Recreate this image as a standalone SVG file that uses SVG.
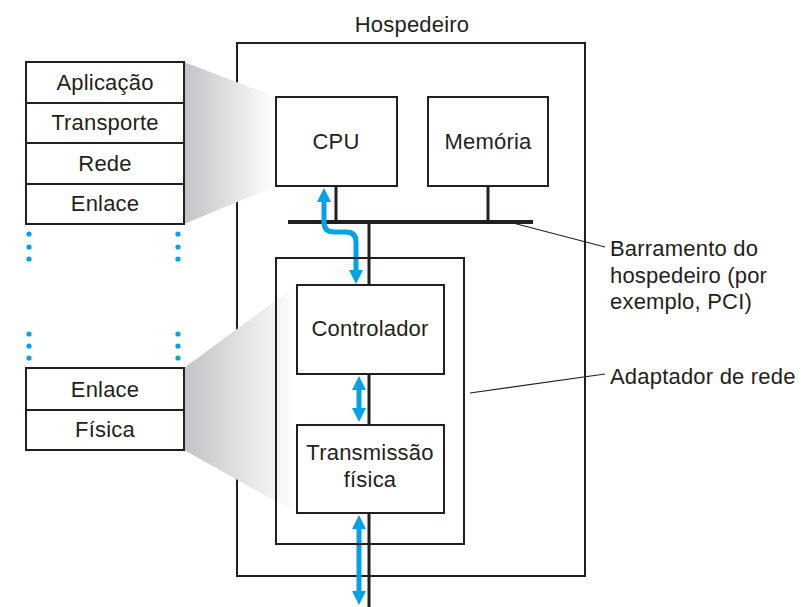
<svg xmlns="http://www.w3.org/2000/svg" width="804" height="607" viewBox="0 0 804 607">
<defs>
<linearGradient id="shade" x1="0" y1="0" x2="1" y2="0">
<stop offset="0" stop-color="#c2c3c5"/>
<stop offset="1" stop-color="#ffffff"/>
</linearGradient>
<style>
text{font-family:"Liberation Sans",Arial,sans-serif;font-size:22px;fill:#231f20;letter-spacing:0.2px}
.c{text-anchor:middle}
.box{fill:#fff;stroke:#231f20;stroke-width:2}
.open{fill:none;stroke:#231f20;stroke-width:2}
.thin{stroke:#231f20;stroke-width:1.2;fill:none}
.bus{stroke:#231f20;stroke-width:4;fill:none}
.wire{stroke:#231f20;stroke-width:3;fill:none}
.blue{stroke:#00a3e6;stroke-width:5;fill:none}
.head{fill:#00a3e6}
.dot{fill:#00a3e6}
</style>
</defs>
<rect width="804" height="607" fill="#fff"/>

<g id="host">
<rect class="box" x="237" y="43" width="348" height="533"/>
<text class="c" x="412" y="32">Hospedeiro</text>
</g>

<g id="shading">
<polygon points="184,62 276,97 276,186 184,224" fill="url(#shade)"/>
<polygon points="184,368 297,285 297,513 184,450" fill="url(#shade)"/>
</g>

<g id="connectors">
<line class="wire" x1="369" y1="222" x2="369" y2="607"/>
<line class="bus" x1="288" y1="222" x2="533" y2="222"/>
<line class="wire" x1="336" y1="186" x2="336" y2="222"/>
<line class="wire" x1="488" y1="186" x2="488" y2="222"/>
<line class="thin" x1="513" y1="223" x2="605" y2="247"/>
<line class="thin" x1="470" y1="393" x2="605" y2="374"/>
<path class="blue" d="M324,200 V222 Q324,232 334,232 H346 Q356,232 356,242 V272"/>
<polygon class="head" points="324,188 331,202 317,202"/>
<polygon class="head" points="356,284 363,270 349,270"/>
<line class="blue" x1="359" y1="386" x2="359" y2="412"/>
<polygon class="head" points="359,376 366,390 352,390"/>
<polygon class="head" points="359,422 366,408 352,408"/>
<line class="blue" x1="359" y1="525" x2="359" y2="595"/>
<polygon class="head" points="359,515 366,529 352,529"/>
<polygon class="head" points="359,605 366,591 352,591"/>
</g>

<g id="adapter">
<rect class="open" x="276" y="258" width="188" height="286"/>
</g>

<g id="cpu">
<rect class="box" x="276" y="97" width="121" height="89"/>
<text class="c" x="336" y="149">CPU</text>
</g>

<g id="memoria">
<rect class="box" x="428" y="97" width="120" height="89"/>
<text class="c" x="488" y="149">Memória</text>
</g>

<g id="controlador">
<rect class="box" x="297" y="285" width="147" height="89"/>
<text class="c" x="370" y="336">Controlador</text>
</g>

<g id="transmissao">
<rect class="box" x="297" y="425" width="147" height="88"/>
<text class="c" x="370" y="460">Transmissão</text>
<text class="c" x="370" y="487">física</text>
</g>

<g id="stack-top">
<rect class="box" x="26" y="62" width="158" height="41"/>
<rect class="box" x="26" y="103" width="158" height="40"/>
<rect class="box" x="26" y="143" width="158" height="41"/>
<rect class="box" x="26" y="184" width="158" height="40"/>
<text class="c" x="105" y="90">Aplicação</text>
<text class="c" x="105" y="130">Transporte</text>
<text class="c" x="105" y="171">Rede</text>
<text class="c" x="105" y="211">Enlace</text>
</g>

<g id="dots">
<circle class="dot" cx="29" cy="234" r="2.6"/>
<circle class="dot" cx="29" cy="247" r="2.6"/>
<circle class="dot" cx="29" cy="259" r="2.6"/>
<circle class="dot" cx="178" cy="234" r="2.6"/>
<circle class="dot" cx="178" cy="247" r="2.6"/>
<circle class="dot" cx="178" cy="259" r="2.6"/>
<circle class="dot" cx="29" cy="334" r="2.6"/>
<circle class="dot" cx="29" cy="346" r="2.6"/>
<circle class="dot" cx="29" cy="358" r="2.6"/>
<circle class="dot" cx="178" cy="334" r="2.6"/>
<circle class="dot" cx="178" cy="346" r="2.6"/>
<circle class="dot" cx="178" cy="358" r="2.6"/>
</g>

<g id="stack-bottom">
<rect class="box" x="26" y="368" width="158" height="42"/>
<rect class="box" x="26" y="410" width="158" height="40"/>
<text class="c" x="105" y="397">Enlace</text>
<text class="c" x="105" y="437">Física</text>
</g>

<g id="labels">
<text x="610" y="256">Barramento do</text>
<text x="610" y="283">hospedeiro (por</text>
<text x="610" y="309">exemplo, PCI)</text>
<text x="610" y="384">Adaptador de rede</text>
</g>
</svg>
